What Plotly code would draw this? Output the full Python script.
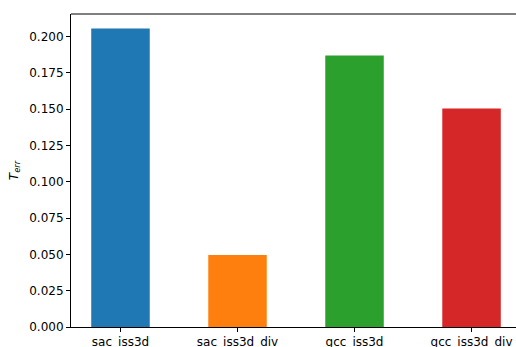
import plotly.graph_objects as go

# Translation error per method
methods = ["sac_iss3d", "sac_iss3d_div", "gcc_iss3d", "gcc_iss3d_div"]
t_err = [0.2055, 0.0495, 0.187, 0.1505]
colors = ["#1f77b4", "#ff7f0e", "#2ca02c", "#d62728"]

fig = go.Figure(
    go.Bar(
        x=list(range(len(methods))),
        y=t_err,
        width=0.5,
        marker=dict(color=colors, line=dict(width=0)),
    )
)

font = dict(family="DejaVu Sans", size=12, color="#000000")

fig.update_layout(
    width=516,
    height=347,
    margin=dict(l=71, r=0, t=14, b=20),
    paper_bgcolor="white",
    plot_bgcolor="white",
    font=font,
    showlegend=False,
    xaxis=dict(
        range=[-0.423, 3.38],
        tickmode="array",
        tickvals=list(range(len(methods))),
        ticktext=methods,
        ticks="outside",
        ticklen=4,
        tickwidth=1,
        tickcolor="#000000",
        showline=True,
        linecolor="#000000",
        linewidth=1,
        showgrid=False,
        zeroline=False,
        automargin=False,
        tickfont=font,
    ),
    yaxis=dict(
        range=[0, 0.2155],
        tickmode="array",
        tickvals=[0, 0.025, 0.05, 0.075, 0.1, 0.125, 0.15, 0.175, 0.2],
        tickformat=".3f",
        ticks="outside",
        ticklen=4,
        tickwidth=1,
        tickcolor="#000000",
        showline=True,
        linecolor="#000000",
        linewidth=1,
        showgrid=False,
        zeroline=False,
        automargin=False,
        tickfont=font,
        title=dict(text="<i>T</i><sub><i>err</i></sub>", font=font, standoff=8),
    ),
    # top spine only; the right side of the frame is left open
    shapes=[
        dict(
            type="line", xref="paper", yref="paper",
            x0=0, x1=1, y0=1, y1=1,
            line=dict(color="#000000", width=1),
        )
    ],
)

fig.write_html("out.html")
